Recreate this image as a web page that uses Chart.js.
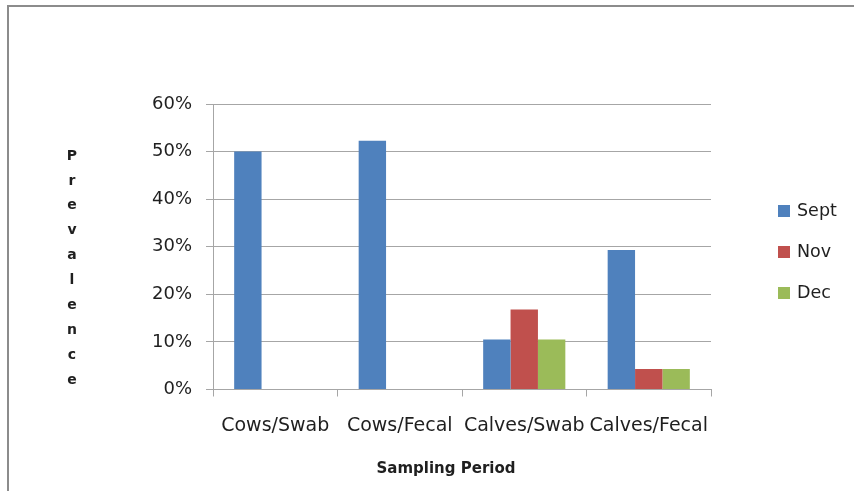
<!DOCTYPE html>
<html>
<head>
<meta charset="utf-8">
<script src="https://cdn.jsdelivr.net/npm/chart.js@4/dist/chart.umd.min.js"></script>
<style>
  html, body { margin: 0; padding: 0; background: #fff; }
  #wrap { position: relative; width: 854px; height: 491px; }
  canvas { position: absolute; left: 0; top: 0; }
</style>
</head>
<body>
<div id="wrap"><canvas id="c" width="854" height="491"></canvas></div>
<script>
// Sampling groups along the x axis
const categories = ['Cows/Swab', 'Cows/Fecal', 'Calves/Swab', 'Calves/Fecal'];

// Prevalence (%) per sampling month
const sept = [50.0, 52.3, 10.5, 29.3];
const nov  = [0, 0, 16.8, 4.3];
const dec  = [0, 0, 10.5, 4.3];

const seriesNames = ['Sept', 'Nov', 'Dec'];
const seriesColors = ['#4F81BD', '#C0504D', '#9BBB59'];

// Y axis ticks (%)
const yTicks = [0, 10, 20, 30, 40, 50, 60];

const yTitle = 'Prevalence';
const xTitle = 'Sampling Period';

const FONT = '"DejaVu Sans", sans-serif';
const TEXT = '#1f1f1f';
const GRID = '#a6a6a6';

// Frame, stacked y title, x title and legend
const decorations = {
  id: 'decorations',
  beforeDraw(chart) {
    const ctx = chart.ctx;
    ctx.save();
    ctx.fillStyle = '#8c8c8c';
    ctx.fillRect(7, 5, 847, 2);
    ctx.fillRect(7, 5, 2, 486);
    ctx.restore();
  },
  afterDraw(chart) {
    const ctx = chart.ctx;
    ctx.save();
    ctx.fillStyle = TEXT;
    ctx.textAlign = 'center';
    ctx.textBaseline = 'middle';
    ctx.font = 'bold 14px ' + FONT;
    yTitle.split('').forEach((ch, i) => {
      ctx.fillText(ch, 72, 156 + i * 24.9);
    });
    ctx.font = 'bold 15px ' + FONT;
    ctx.fillText(xTitle, 446, 469);

    // legend
    ctx.textAlign = 'left';
    ctx.font = '17.5px ' + FONT;
    chart.data.datasets.forEach((ds, i) => {
      const y = 211 + i * 41;
      ctx.fillStyle = ds.backgroundColor;
      ctx.fillRect(778, y - 6, 12, 12);
      ctx.fillStyle = TEXT;
      ctx.fillText(ds.label, 797, y);
    });
    ctx.restore();
  }
};

const seriesData = [sept, nov, dec];

new Chart(document.getElementById('c'), {
  type: 'bar',
  data: {
    labels: categories,
    datasets: seriesNames.map((name, i) => ({
      label: name,
      data: seriesData[i],
      backgroundColor: seriesColors[i],
      borderWidth: 0,
      categoryPercentage: 0.66,
      barPercentage: 1.0
    }))
  },
  options: {
    responsive: false,
    animation: false,
    devicePixelRatio: 1,
    layout: { padding: { top: 104, right: 143, left: 0, bottom: 0 } },
    plugins: {
      legend: { display: false },
      tooltip: { enabled: false }
    },
    scales: {
      y: {
        min: 0,
        max: 60,
        afterFit(scale) { scale.width = 213; },
        afterBuildTicks(scale) { scale.ticks = yTicks.map(v => ({ value: v })); },
        ticks: {
          callback: v => v + '%',
          color: TEXT,
          font: { family: FONT, size: 18 },
          padding: 14
        },
        grid: { color: GRID, lineWidth: 1, tickLength: 7 },
        border: { color: GRID, width: 1 }
      },
      x: {
        afterFit(scale) { scale.height = 101.5; },
        ticks: {
          color: TEXT,
          font: { family: FONT, size: 19 },
          padding: 18,
          maxRotation: 0,
          autoSkip: false
        },
        grid: { color: GRID, drawOnChartArea: false, tickLength: 7, offset: true },
        border: { color: GRID, width: 1 }
      }
    }
  },
  plugins: [decorations]
});
</script>
</body>
</html>
